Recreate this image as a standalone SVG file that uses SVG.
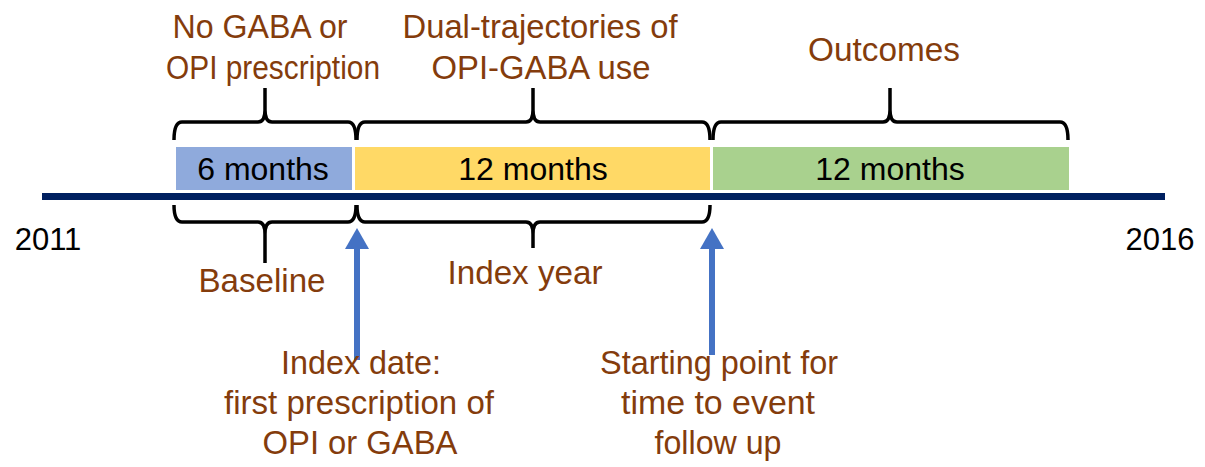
<svg xmlns="http://www.w3.org/2000/svg" width="1205" height="467" viewBox="0 0 1205 467">
<defs>
<style>
.lbl{font-family:"Liberation Sans",Arial,sans-serif;font-size:34px;fill:#843C0C;text-anchor:middle}
.box{font-family:"Liberation Sans",Arial,sans-serif;font-size:32px;fill:#000;text-anchor:middle}
.yr{font-family:"Liberation Sans",Arial,sans-serif;font-size:31px;fill:#000;text-anchor:middle}
.brace{fill:none;stroke:#000;stroke-width:3.5;stroke-linejoin:round}
.arrow{stroke:#4472C4;stroke-width:6;fill:none}
</style>
<marker id="ah" markerWidth="3.5" markerHeight="4" refX="0.5" refY="2" orient="auto" markerUnits="strokeWidth">
<path d="M0,0 L3.5,2 L0,4 z" fill="#4472C4"/>
</marker>
</defs>
<rect width="1205" height="467" fill="#fff"/>
<g id="timeline">
<rect x="42" y="193" width="1123" height="7" fill="#002060"/>
<text class="yr" x="48" y="250">2011</text>
<text class="yr" x="1160" y="250">2016</text>
</g>
<g id="period-baseline">
<rect x="176" y="147" width="176" height="43" fill="#8FAADC"/>
<text class="box" x="263" y="180">6 months</text>
</g>
<g id="period-index">
<rect x="355" y="147" width="355" height="43" fill="#FFD966"/>
<text class="box" x="533" y="180">12 months</text>
</g>
<g id="period-outcomes">
<rect x="713" y="147" width="356" height="43" fill="#A9D18E"/>
<text class="box" x="890" y="180">12 months</text>
</g>
<g id="connectors">
<path class="brace" d="M174,140 Q174,122 182,122 L258,122 Q265,122 265,110 L265,88 M265,110 Q265,122 272,122 L348,122 Q356,122 356,140"/>
<path class="brace" d="M357,140 Q357,122 365,122 L526,122 Q533,122 533,110 L533,88 M533,110 Q533,122 540,122 L702,122 Q710,122 710,140"/>
<path class="brace" d="M713,140 Q713,122 721,122 L883,122 Q890,122 890,110 L890,88 M890,110 Q890,122 897,122 L1060,122 Q1068,122 1068,140"/>
<path class="brace" d="M174,205 Q174,222 182,222 L258,222 Q265,222 265,234 L265,263 M265,234 Q265,222 272,222 L348,222 Q356,222 356,205"/>
<path class="brace" d="M357,205 Q357,222 365,222 L526,222 Q533,222 533,234 L533,248 M533,234 Q533,222 540,222 L702,222 Q710,222 710,205"/>
<line class="arrow" x1="357" y1="360" x2="357" y2="246" marker-end="url(#ah)"/>
<line class="arrow" x1="712" y1="355" x2="712" y2="246" marker-end="url(#ah)"/>
</g>
<g id="label-nogaba">
<text class="lbl" x="260" y="38" textLength="175" lengthAdjust="spacingAndGlyphs">No GABA or</text>
<text class="lbl" x="273" y="79" textLength="214" lengthAdjust="spacingAndGlyphs">OPI prescription</text>
</g>
<g id="label-dual">
<text class="lbl" x="540" y="38" textLength="275" lengthAdjust="spacingAndGlyphs">Dual-trajectories of</text>
<text class="lbl" x="541" y="79" textLength="219" lengthAdjust="spacingAndGlyphs">OPI-GABA use</text>
</g>
<g id="label-outcomes">
<text class="lbl" x="884" y="61" textLength="152" lengthAdjust="spacingAndGlyphs">Outcomes</text>
</g>
<g id="label-baseline">
<text class="lbl" x="262" y="292" textLength="127" lengthAdjust="spacingAndGlyphs">Baseline</text>
</g>
<g id="label-indexyear">
<text class="lbl" x="525" y="284" textLength="155" lengthAdjust="spacingAndGlyphs">Index year</text>
</g>
<g id="label-indexdate">
<text class="lbl" x="361" y="374" textLength="160" lengthAdjust="spacingAndGlyphs">Index date:</text>
<text class="lbl" x="359" y="414" textLength="270" lengthAdjust="spacingAndGlyphs">first prescription of</text>
<text class="lbl" x="360" y="454" textLength="195" lengthAdjust="spacingAndGlyphs">OPI or GABA</text>
</g>
<g id="label-start">
<text class="lbl" x="719" y="374" textLength="238" lengthAdjust="spacingAndGlyphs">Starting point for</text>
<text class="lbl" x="718" y="414" textLength="194" lengthAdjust="spacingAndGlyphs">time to event</text>
<text class="lbl" x="718" y="454" textLength="127" lengthAdjust="spacingAndGlyphs">follow up</text>
</g>
</svg>
